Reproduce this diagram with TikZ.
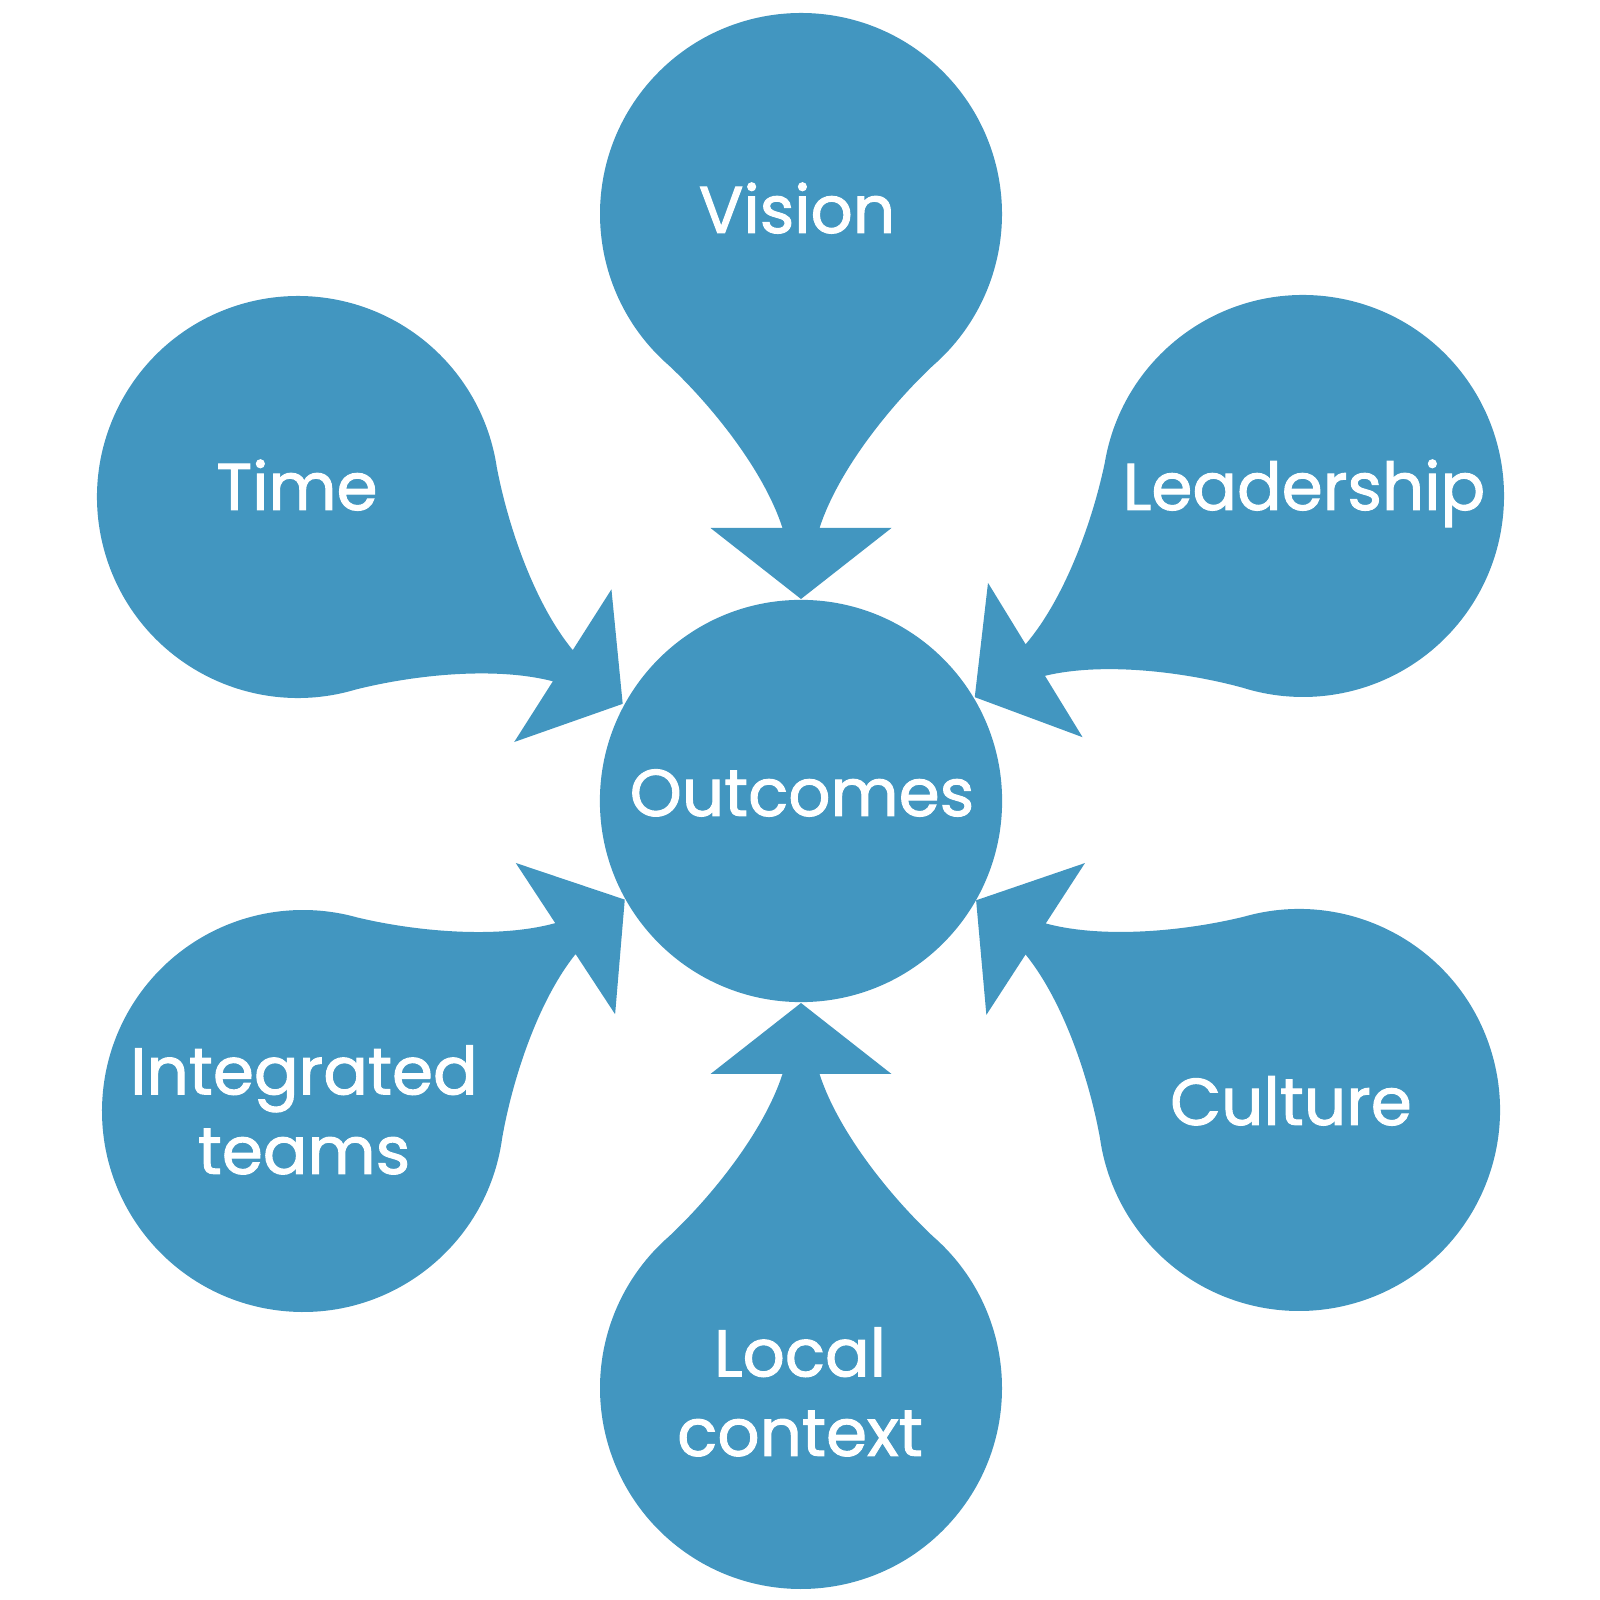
\documentclass[tikz,border=0pt]{standalone}
\usepackage{fontspec}
\setmainfont{Poppins}
\newfontfamily\petalfont{Poppins}[FakeBold=1.5]

\definecolor{petalblue}{RGB}{66,150,192}

\tikzset{
  petal/.pic={
    \fill[petalblue] (41:201) .. controls (193,88) and (257,37) .. (314,18.5)
      -- (314,90.5) -- (385,0) -- (314,-90.5) -- (314,-18.5)
      .. controls (257,-37) and (193,-88) .. (-41:201)
      arc[start angle=-41, end angle=-319, radius=201] -- cycle;
  },
  hub/.style={circle, fill=petalblue, minimum size=4.02cm, inner sep=0pt},
  lbl/.style={text=white, font=\petalfont\fontsize{18.8pt}{22.6pt}\selectfont, align=center, inner sep=0pt}
}

\begin{document}
\begin{tikzpicture}[x=0.01cm, y=0.01cm]
  \useasboundingbox (0,0) rectangle (1600,1600);
  \pic[rotate=-90] at (801,1386) {petal};
  \pic[rotate=-32.5] at (298,1103) {petal};
  \pic[rotate=-148.5] at (1303,1104) {petal};
  \pic[rotate=33.3] at (303,489) {petal};
  \pic[rotate=147] at (1299,490) {petal};
  \pic[rotate=90] at (801,212) {petal};
  \node[hub] (outcomes) at (801,799) {};
  \node[lbl, anchor=base] (outcomestext) at (802,784) {Outcomes};
  \node[lbl, anchor=base] (vision) at (797,1367) {Vision};
  \node[lbl, anchor=base] (time) at (297,1090) {Time};
  \node[lbl, anchor=base] (leadership) at (1304,1090) {Leadership};
  \node[lbl, anchor=base] (culture) at (1291,475) {Culture};
  \node[lbl] (integrated) at (304,490) {Integrated\\teams};
  \node[lbl] (localcontext) at (800,208) {Local\\context};
\end{tikzpicture}
\end{document}
